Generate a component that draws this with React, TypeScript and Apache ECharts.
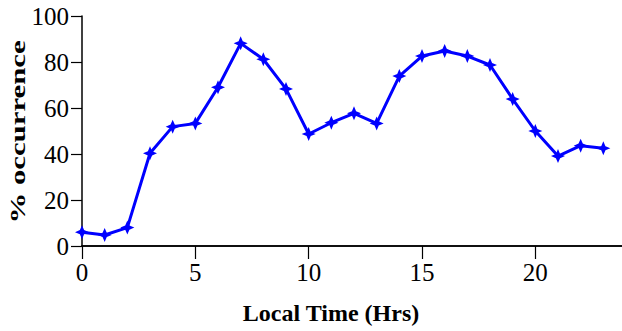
import React, { useEffect, useRef } from "react";
import * as echarts from "echarts";

const hours = [0, 1, 2, 3, 4, 5, 6, 7, 8, 9, 10, 11, 12, 13, 14, 15, 16, 17, 18, 19, 20, 21, 22, 23];
const occurrence = [6, 4.8, 8, 40.3, 51.9, 53.3, 69, 88.1, 81.2, 68.3, 48.7, 53.6, 57.7, 53.3, 73.9, 82.6, 84.8, 82.6, 78.7, 63.9, 50, 39.1, 43.6, 42.5];

const xTitle = "Local Time (Hrs)";
const yTitle = "% occurrence";

const starPath =
  "path://M0,-10 L3,-3 L10,0 L3,3 L0,10 L-3,3 L-10,0 L-3,-3 Z";

export default function App() {
  const ref = useRef<HTMLDivElement>(null);
  useEffect(() => {
    if (!ref.current) return;
    const chart = echarts.init(ref.current, null, { renderer: "svg" });
    const font = "'Liberation Serif', 'Times New Roman', serif";
    chart.setOption({
      animation: false,
      backgroundColor: "#ffffff",
      grid: { left: 82, right: -4, top: 16, bottom: 85, containLabel: false, outerBoundsMode: "none" },
      xAxis: [
        {
          type: "value",
          min: 0,
          max: 24,
          interval: 5,
          position: "bottom",
          axisLine: { show: true, onZero: false, lineStyle: { color: "#000", width: 1.5 } },
          axisTick: { show: true, length: 13, lineStyle: { color: "#000", width: 1.2 } },
          axisLabel: {
            color: "#000",
            fontFamily: font,
            fontSize: 25,
            margin: 14,
            formatter: (v: number) => (v <= 20 ? String(v) : ""),
          },
          splitLine: { show: false },
          name: xTitle,
          nameLocation: "middle",
          nameGap: 55,
          nameTextStyle: { color: "#000", fontFamily: font, fontSize: 24, fontWeight: "bold", padding: [0, 0, 0, -46] },
        },
        {
          type: "value",
          min: 0,
          max: 24,
          position: "top",
          axisLine: { show: true, lineStyle: { color: "#000", width: 1.5 } },
          axisTick: { show: false },
          axisLabel: { show: false },
          splitLine: { show: false },
        },
      ],
      yAxis: {
        type: "value",
        min: 0,
        max: 100,
        interval: 20,
        axisLine: { show: true, onZero: false, lineStyle: { color: "#000", width: 1.5 } },
        axisTick: { show: true, length: 11, lineStyle: { color: "#000", width: 1.2 } },
        axisLabel: { color: "#000", fontFamily: font, fontSize: 25, margin: 13 },
        splitLine: { show: false },
      },
      graphic: [
        {
          type: "text",
          x: 17.5,
          y: 132,
          rotation: Math.PI / 2,
          scaleX: 1.4,
          scaleY: 1,
          style: {
            text: yTitle,
            fill: "#000",
            font: "bold 22px " + font,
            align: "center",
            verticalAlign: "middle",
          },
        },
      ],
      series: [
        {
          type: "line",
          data: hours.map((h, i) => [h, occurrence[i]]),
          xAxisIndex: 0,
          lineStyle: { color: "#0000ff", width: 3 },
          itemStyle: { color: "#0000ff" },
          symbol: starPath,
          symbolSize: 14,
          showSymbol: true,
        },
      ],
    });
    return () => chart.dispose();
  }, []);
  return <div ref={ref} style={{ width: 622, height: 331, position: "absolute", left: 0, top: 0 }} />;
}
